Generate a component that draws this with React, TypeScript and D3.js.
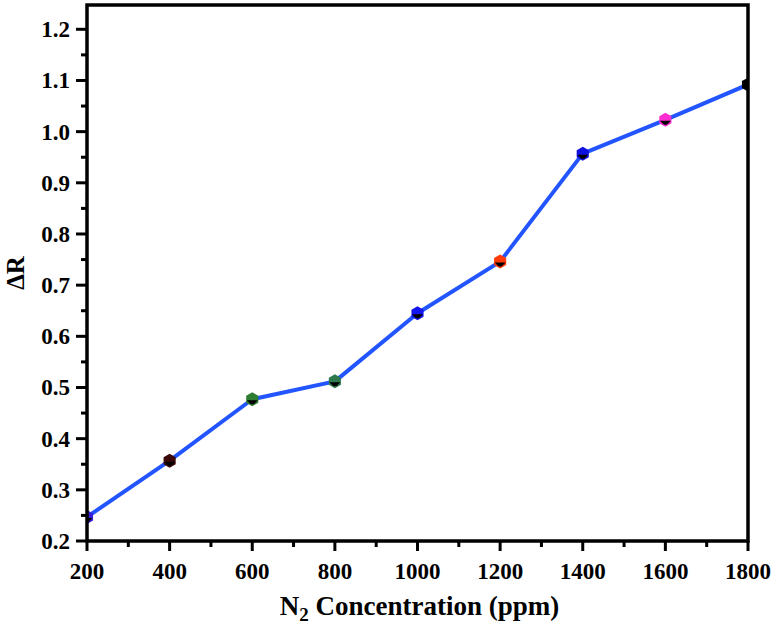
import React from "react";
import * as d3 from "d3";

const concentrations = [200, 400, 600, 800, 1000, 1200, 1400, 1600, 1800];
const deltaR = [0.247, 0.357, 0.477, 0.512, 0.645, 0.746, 0.957, 1.023, 1.092];
const markerColors = ["#3a1fd8", "#3a0808", "#2e7d32", "#2e7a4e", "#1414f0", "#ff3b0a", "#1010e0", "#ff2ccf", "#000000"];
const xTicks = [200, 400, 600, 800, 1000, 1200, 1400, 1600, 1800];
const xMinor = [300, 500, 700, 900, 1100, 1300, 1500, 1700];
const yTicks = [0.2, 0.3, 0.4, 0.5, 0.6, 0.7, 0.8, 0.9, 1.0, 1.1, 1.2];
const yMinor = [0.25, 0.35, 0.45, 0.55, 0.65, 0.75, 0.85, 0.95, 1.05, 1.15];

const W = 774, H = 631;
const L = 87, R = 748, T = 5, B = 541;
const FONT = "'Liberation Serif', 'Times New Roman', serif";

export default function App() {
  const x = d3.scaleLinear().domain([200, 1800]).range([L, R]);
  const y = d3.scaleLinear().domain([0.2, 1.2]).range([B, 29.3]);
  const pts = concentrations.map((c, i) => [x(c), y(deltaR[i])] as [number, number]);
  const line = d3.line()(pts) || "";
  const hex = (cx: number, cy: number, r: number) =>
    d3.range(6).map(k => {
      const a = -Math.PI / 2 + (k * Math.PI) / 3;
      return `${cx + r * Math.cos(a)},${cy + r * Math.sin(a)}`;
    }).join(" ");
  return (
    <svg width={W} height={H} style={{ position: "absolute", left: 0, top: 0, background: "#fff" }}>
      <defs>
        <clipPath id="plotClip">
          <rect x={L} y={T} width={R - L - 1} height={B - T} />
        </clipPath>
      </defs>
      <g clipPath="url(#plotClip)">
        <path d={line} fill="none" stroke="#2255ff" strokeWidth={4} strokeLinejoin="round" />
        {pts.map(([cx, cy], i) => (
          <g key={i}>
            <polygon points={hex(cx, cy, 7)} fill={markerColors[i]} />
            <polygon
              points={`${cx - 5.5},${cy + 1} ${cx + 5.5},${cy + 1} ${cx + 1.5},${cy + 5} ${cx - 1.5},${cy + 5}`}
              fill="#000"
            />
          </g>
        ))}
      </g>
      <rect x={L} y={T} width={R - L} height={B - T} fill="none" stroke="#000" strokeWidth={3.5} />
      {xTicks.map(t => (
        <g key={"x" + t}>
          <line x1={x(t)} x2={x(t)} y1={B} y2={B + 10} stroke="#000" strokeWidth={3} />
          <text x={x(t)} y={578.5} textAnchor="middle" fontSize={23} fontFamily={FONT} fontWeight="bold">{t}</text>
        </g>
      ))}
      {xMinor.map(t => (
        <line key={"xm" + t} x1={x(t)} x2={x(t)} y1={B} y2={B + 6} stroke="#000" strokeWidth={3} />
      ))}
      {yTicks.map(t => (
        <g key={"y" + t}>
          <line x1={L - 11} x2={L} y1={y(t)} y2={y(t)} stroke="#000" strokeWidth={3} />
          <text x={70} y={y(t) + 8} textAnchor="end" fontSize={23} fontFamily={FONT} fontWeight="bold">{t.toFixed(1)}</text>
        </g>
      ))}
      {yMinor.map(t => (
        <line key={"ym" + t} x1={L - 6} x2={L} y1={y(t)} y2={y(t)} stroke="#000" strokeWidth={3} />
      ))}
      <text x={(L + R) / 2 + 2} y={615} textAnchor="middle" fontSize={27} fontFamily={FONT} fontWeight="bold">
        N<tspan fontSize={19} dy={6}>2</tspan><tspan dy={-6}> Concentration (ppm)</tspan>
      </text>
      <text transform={`translate(24,${(T + B) / 2}) rotate(-90)`} textAnchor="middle" fontSize={25} fontFamily={FONT} fontWeight="bold">
        ΔR
      </text>
    </svg>
  );
}
